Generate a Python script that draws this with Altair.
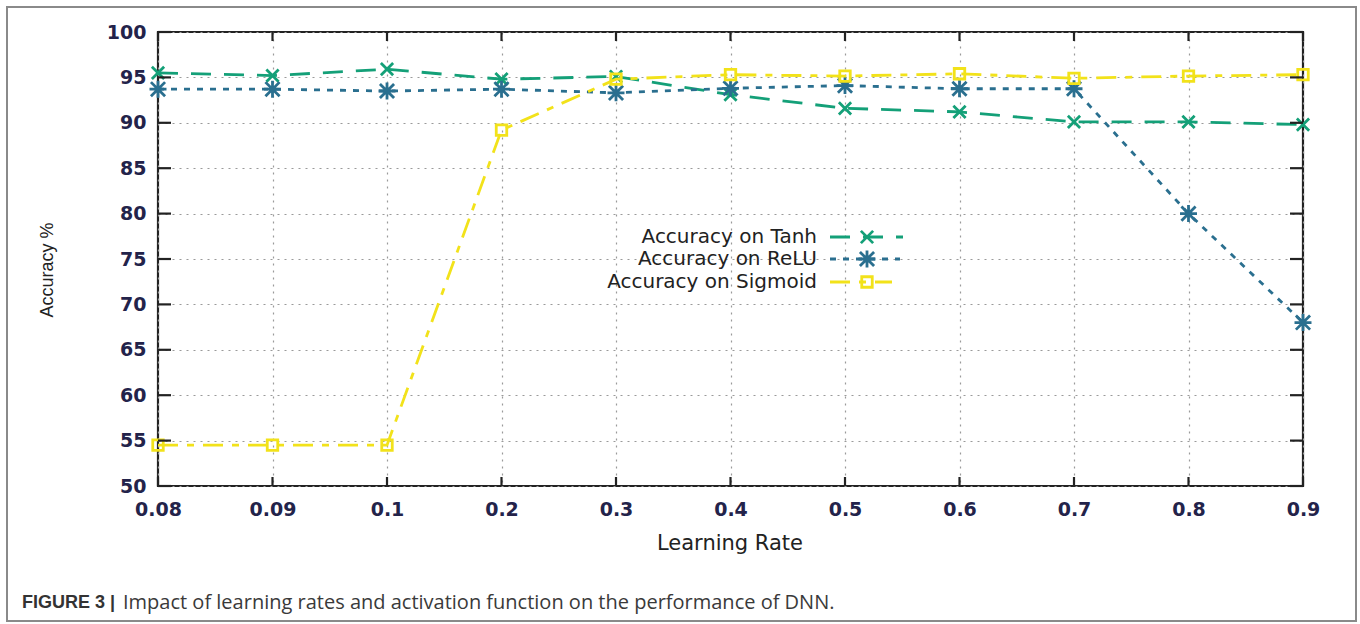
import altair as alt
import pandas as pd

# ---- data ----
lr = ["0.08", "0.09", "0.1", "0.2", "0.3", "0.4", "0.5", "0.6", "0.7", "0.8", "0.9"]
tanh = [95.5, 95.2, 95.9, 94.8, 95.1, 93.1, 91.6, 91.2, 90.1, 90.1, 89.8]
relu = [93.7, 93.7, 93.5, 93.7, 93.3, 93.8, 94.1, 93.75, 93.75, 80.0, 68.0]
sigmoid = [54.5, 54.5, 54.5, 89.2, 94.8, 95.3, 95.15, 95.4, 94.9, 95.15, 95.3]
series_names = ["Accuracy on Tanh", "Accuracy on ReLU", "Accuracy on Sigmoid"]
y_ticks = [50, 55, 60, 65, 70, 75, 80, 85, 90, 95, 100]
x_title = "Learning Rate"
y_title = "Accuracy %"
caption_bold = "FIGURE 3 |"
caption_text = "Impact of learning rates and activation function on the performance of DNN."

colors = ["#14a078", "#2a6f8f", "#f2e21a"]
dashes = [[20, 13], [6, 7], [20, 9, 7, 9]]
X_PATH = "M-1,-1L1,1M-1,1L1,-1"
STAR_PATH = "M-1,-1L1,1M-1,1L1,-1M-1.2,0L1.2,0M0,-1.2L0,1.2"
shapes = [X_PATH, STAR_PATH, "square"]
sizes = [150, 200, 110]

W, H = 1145, 454

df = pd.DataFrame({"lr": lr, "tanh": tanh, "relu": relu, "sigmoid": sigmoid})

LBL = dict(labelFont="DejaVu Sans", labelFontWeight="bold", labelFontSize=19,
           labelColor="#23234a", domain=False, ticks=False,
           grid=True, gridDash=[2, 5], gridColor="#9a9a9a", gridWidth=1.2)

xenc = alt.X("lr:O", sort=lr, scale=alt.Scale(type="point", padding=0),
             axis=alt.Axis(title=None, labelAngle=0, labelPadding=14, **LBL))
yscale = alt.Scale(domain=[50, 100], nice=False, zero=False)

base = alt.Chart(df)

layers = []
layers.append(base.mark_line(opacity=0).encode(
    x=xenc,
    y=alt.Y("tanh:Q", scale=yscale,
            axis=alt.Axis(title=None, values=y_ticks, labelPadding=12, **LBL))
))

fields = ["tanh", "relu", "sigmoid"]
for f, c, d, s, sz in zip(fields, colors, dashes, shapes, sizes):
    layers.append(base.mark_line(color=c, strokeWidth=2.8, strokeDash=d).encode(
        x=alt.X("lr:O", sort=lr), y=alt.Y(f + ":Q", scale=yscale)))
    layers.append(base.mark_point(shape=s, filled=False, color=c, strokeWidth=2.8,
                                  size=sz, opacity=1).encode(
        x=alt.X("lr:O", sort=lr), y=alt.Y(f + ":Q", scale=yscale)))

# inward ticks
tick_x = pd.DataFrame({"lr": lr})
tick_y = pd.DataFrame({"v": y_ticks})
tk = dict(color="#222", strokeWidth=2.2)
layers.append(alt.Chart(tick_x).mark_rule(**tk).encode(
    x=alt.X("lr:O", sort=lr), y=alt.value(H), y2=alt.value(H - 9)))
layers.append(alt.Chart(tick_x).mark_rule(**tk).encode(
    x=alt.X("lr:O", sort=lr), y=alt.value(0), y2=alt.value(9)))
layers.append(alt.Chart(tick_y).mark_rule(**tk).encode(
    y=alt.Y("v:Q", scale=yscale), x=alt.value(0), x2=alt.value(13)))
layers.append(alt.Chart(tick_y).mark_rule(**tk).encode(
    y=alt.Y("v:Q", scale=yscale), x=alt.value(W), x2=alt.value(W - 13)))

# axis titles
layers.append(alt.Chart(pd.DataFrame({"t": [x_title]})).mark_text(
    align="center", baseline="middle", font="DejaVu Sans", fontSize=21,
    color="#222").encode(text="t:N", x=alt.value(572), y=alt.value(512)))
layers.append(alt.Chart(pd.DataFrame({"t": [y_title]})).mark_text(
    align="center", baseline="middle", font="Liberation Sans", fontSize=18,
    angle=270, color="#222").encode(text="t:N", x=alt.value(-110), y=alt.value(238)))

# legend (inside plot)
leg_text_x = 659
leg_rows = [205, 227, 250]
sample_ends = [745, 742, 734]
for name, c, d, s, sz, yy, xe in zip(series_names, colors, dashes, shapes, sizes, leg_rows, sample_ends):
    ld = pd.DataFrame({"name": [name]})
    layers.append(alt.Chart(ld).mark_text(align="right", baseline="middle",
                                          font="DejaVu Sans", fontSize=20,
                                          color="#222").encode(
        text="name:N", x=alt.value(leg_text_x), y=alt.value(yy)))
    layers.append(alt.Chart(ld).mark_rule(color=c, strokeWidth=2.8, strokeDash=d).encode(
        x=alt.value(672), x2=alt.value(xe), y=alt.value(yy)))
    layers.append(alt.Chart(ld).mark_point(shape=s, filled=False, color=c, strokeWidth=2.8,
                                           size=sz, opacity=1).encode(
        x=alt.value(709), y=alt.value(yy)))

# figure frame and caption
fd = pd.DataFrame({"a": [0]})
layers.append(alt.Chart(fd).mark_rect(fill=None, stroke="#8a8a8a", strokeWidth=2).encode(
    x=alt.value(-151), x2=alt.value(1198), y=alt.value(-25), y2=alt.value(589)))
layers.append(alt.Chart(pd.DataFrame({"t": [caption_bold]})).mark_text(
    align="left", baseline="middle", font="Liberation Sans", fontSize=18,
    fontWeight="bold", color="#333").encode(
    text="t:N", x=alt.value(-136), y=alt.value(571)))
layers.append(alt.Chart(pd.DataFrame({"t": [caption_text]})).mark_text(
    align="left", baseline="middle", font="Open Sans", fontSize=20,
    color="#3a3a3a").encode(
    text="t:N", x=alt.value(-35), y=alt.value(571)))

chart = alt.layer(*layers).properties(
    width=W, height=H,
    autosize=alt.AutoSizeParams(type="none"),
    padding={"left": 158, "top": 32, "right": 57, "bottom": 138},
    background="white",
).configure_view(stroke="#222", strokeWidth=2.2)

chart.save("out.html", embed_options={"renderer": "svg", "actions": False})
